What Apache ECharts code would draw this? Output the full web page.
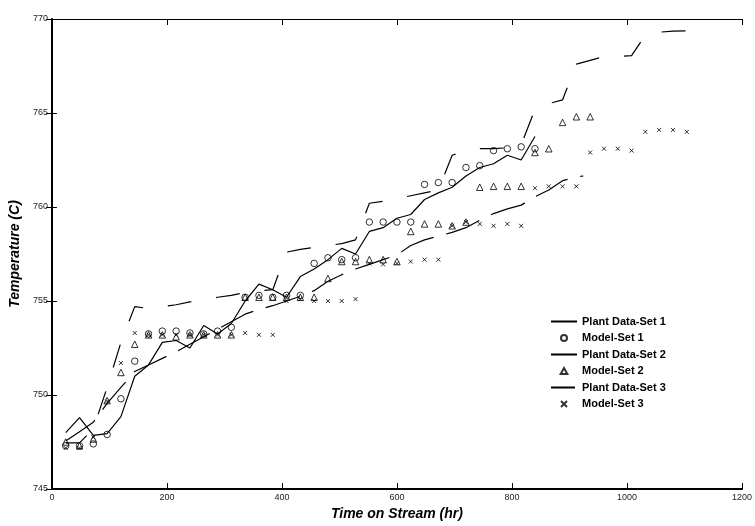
<!DOCTYPE html>
<html>
<head>
<meta charset="utf-8">
<script src="https://cdn.jsdelivr.net/npm/echarts@6/dist/echarts.min.js"></script>
<style>
  html, body { margin: 0; padding: 0; background: #fff; }
  #main { width: 755px; height: 526px; }
</style>
</head>
<body>
<div id="main"></div>
<script>
// time on stream (hr) for each series
var tModel1 = [24,48,72,96,120,144,168,192,216,240,264,288,312,336,360,384,408,432,456,480,504,528,552,576,600,624,648,672,696,720,744,768,792,816,840];
var tModel2 = [24,48,72,96,120,144,168,192,216,240,264,288,312,336,360,384,408,432,456,480,504,528,552,576,600,624,648,672,696,720,744,768,792,816,840,864,888,912,936];
var tModel3 = [24,48,72,96,120,144,168,192,216,240,264,288,312,336,360,384,408,432,456,480,504,528,552,576,600,624,648,672,696,720,744,768,792,816,840,864,888,912,936,960,984,1008,1032,1056,1080,1104];
var tPlant1 = [24,48,72,96,120,144,168,192,216,240,264,288,312,336,360,384,408,432,456,480,504,528,552,576,600,624,648,672,696,720,744,768,792,816,840];
var tPlant2 = [24,48,72,96,120,144,168,192,216,240,264,288,312,336,360,384,408,432,456,480,504,528,552,576,600,624,648,672,696,720,744,768,792,816,840,864,888,912,924];
var tPlant3 = [24,48,72,96,120,144,168,192,216,240,264,288,312,336,360,384,408,432,456,480,504,528,552,576,600,624,648,672,696,720,744,768,792,816,840,864,888,912,936,960,984,1008,1032,1056,1080,1104];

// temperatures (C)
var model1 = [747.3,747.3,747.4,747.9,749.8,751.8,753.25,753.4,753.4,753.3,753.25,753.4,753.6,755.2,755.3,755.2,755.3,755.3,757.0,757.3,757.2,757.3,759.2,759.2,759.2,759.2,761.2,761.3,761.3,762.1,762.2,763.0,763.1,763.2,763.1];
var model2 = [747.5,747.3,747.66,749.7,751.2,752.7,753.2,753.2,753.1,753.2,753.2,753.2,753.2,755.2,755.2,755.2,755.2,755.2,755.2,756.2,757.1,757.1,757.2,757.2,757.1,758.7,759.1,759.1,759.0,759.2,761.05,761.1,761.1,761.1,762.9,763.1,764.5,764.8,764.8];
var model3 = [747.18,747.18,747.75,749.66,751.7,753.3,753.2,753.2,753.2,753.2,753.2,753.2,753.2,753.3,753.2,753.2,755.0,755.1,755.0,755.0,755.0,755.1,757.0,756.95,757.0,757.1,757.2,757.2,759.0,759.2,759.1,759.0,759.1,759.0,761.0,761.1,761.1,761.1,762.9,763.1,763.1,763.0,764.0,764.1,764.1,764.0];
var plant1 = [748.0,748.8,747.85,747.95,748.85,751.0,751.6,752.8,752.9,752.5,753.7,753.25,753.8,755.0,755.9,755.6,755.2,756.3,756.7,757.2,757.8,757.5,758.7,758.9,759.4,759.6,760.4,760.75,761.05,761.65,762.1,762.3,762.75,762.5,763.75];
var plant2 = [747.55,748.05,748.55,749.55,750.4,751.25,751.6,751.95,752.3,752.7,753.1,753.5,753.9,754.3,754.55,754.75,755.0,755.25,755.55,756.05,756.4,756.7,756.95,757.2,757.45,757.95,758.25,758.45,758.65,758.9,759.3,759.65,759.9,760.1,760.55,760.9,761.4,761.6,761.65];
var plant3 = [747.45,747.45,748.2,750.4,752.8,754.7,754.6,754.7,754.8,754.95,755.05,755.2,755.3,755.45,755.55,755.6,757.6,757.75,757.85,757.95,758.05,758.25,760.2,760.3,760.45,760.6,760.75,760.9,762.75,763.0,763.1,763.1,763.15,763.3,765.2,765.5,765.7,767.6,767.8,768.0,768.0,768.05,769.15,769.3,769.35,769.37];

var xTicks = [0, 1200, 200];
var yTicks = [745, 770, 5];

function pairs(t, v) {
    var out = [];
    for (var i = 0; i < t.length; i++) out.push([t[i], v[i]]);
    return out;
}

var myChart = echarts.init(document.getElementById('main'));
var font = 'Liberation Sans, Arial, sans-serif';
var crossPath = 'path://M0,0L10,10M10,0L0,10';
var triPath = 'path://M5,0L10,9L0,9Z';
var hideDot = { opacity: 0 };

var option = {
    backgroundColor: '#fff',
    animation: false,
    grid: { left: 51, right: 8, top: 19, bottom: 34 },
    legend: {
        orient: 'vertical',
        left: 545,
        top: 310,
        itemWidth: 26,
        itemHeight: 6,
        itemGap: 3.5,
        symbolKeepAspect: true,
        textStyle: { fontFamily: font, fontSize: 11, fontWeight: 'bold', color: '#000', lineHeight: 13 },
        data: [
            { name: 'Plant Data-Set 1', itemStyle: hideDot },
            'Model-Set 1',
            { name: 'Plant Data-Set 2', itemStyle: hideDot },
            { name: 'Model-Set 2', icon: triPath },
            { name: 'Plant Data-Set 3', itemStyle: hideDot },
            'Model-Set 3'
        ]
    },
    xAxis: [{
        type: 'value', min: xTicks[0], max: xTicks[1], interval: xTicks[2],
        name: 'Time on Stream (hr)', nameLocation: 'middle', nameGap: 18,
        nameTextStyle: { fontFamily: font, fontSize: 14, fontWeight: 'bold', fontStyle: 'italic', color: '#000' },
        axisLine: { lineStyle: { color: '#000', width: 2 } },
        axisTick: { inside: true, length: 6, lineStyle: { color: '#000' } },
        axisLabel: { fontFamily: font, fontSize: 9, color: '#222', margin: 4, formatter: function (v) { return String(v); } },
        splitLine: { show: false }
    }, {
        type: 'value', position: 'top', min: xTicks[0], max: xTicks[1], interval: xTicks[2],
        axisLine: { lineStyle: { color: '#000', width: 1 } },
        axisTick: { inside: true, length: 6, lineStyle: { color: '#000' } },
        axisLabel: { show: false },
        splitLine: { show: false }
    }],
    yAxis: [{
        type: 'value', min: yTicks[0], max: yTicks[1], interval: yTicks[2],
        name: 'Temperature (C)', nameLocation: 'middle', nameGap: 25,
        nameTextStyle: { fontFamily: font, fontSize: 14, fontWeight: 'bold', fontStyle: 'italic', color: '#000' },
        axisLine: { show: true, lineStyle: { color: '#000', width: 2 } },
        axisTick: { show: true, inside: true, length: 5, lineStyle: { color: '#000' } },
        axisLabel: { fontFamily: font, fontSize: 9, color: '#222', margin: 4 },
        splitLine: { show: false }
    }, {
        type: 'value', position: 'right', min: yTicks[0], max: yTicks[1], interval: yTicks[2],
        axisLine: { show: true, lineStyle: { color: '#000', width: 1 } },
        axisTick: { show: true, inside: true, length: 6, lineStyle: { color: '#000' } },
        axisLabel: { show: false },
        splitLine: { show: false }
    }],
    series: [{
        name: 'Plant Data-Set 1', type: 'line', data: pairs(tPlant1, plant1),
        symbol: 'none', lineStyle: { color: '#000', width: 1.2 }, itemStyle: { color: '#000' }
    }, {
        name: 'Model-Set 1', type: 'scatter', data: pairs(tModel1, model1),
        symbol: 'circle', symbolSize: 6.5,
        itemStyle: { color: 'none', borderColor: '#000', borderWidth: 1 }
    }, {
        name: 'Plant Data-Set 2', type: 'line', data: pairs(tPlant2, plant2),
        symbol: 'none', lineStyle: { color: '#000', width: 1.2, type: [36, 13] }, itemStyle: { color: '#000' }
    }, {
        name: 'Model-Set 2', type: 'scatter', data: pairs(tModel2, model2),
        symbol: 'triangle', symbolSize: 6.5,
        itemStyle: { color: 'none', borderColor: '#000', borderWidth: 1 }
    }, {
        name: 'Plant Data-Set 3', type: 'line', data: pairs(tPlant3, plant3),
        symbol: 'none', lineStyle: { color: '#000', width: 1.2, type: [24, 25] }, itemStyle: { color: '#000' }
    }, {
        name: 'Model-Set 3', type: 'scatter', data: pairs(tModel3, model3),
        symbol: crossPath, symbolSize: 4,
        itemStyle: { color: 'none', borderColor: '#000', borderWidth: 1 }
    }]
};
myChart.setOption(option);
</script>
</body>
</html>
